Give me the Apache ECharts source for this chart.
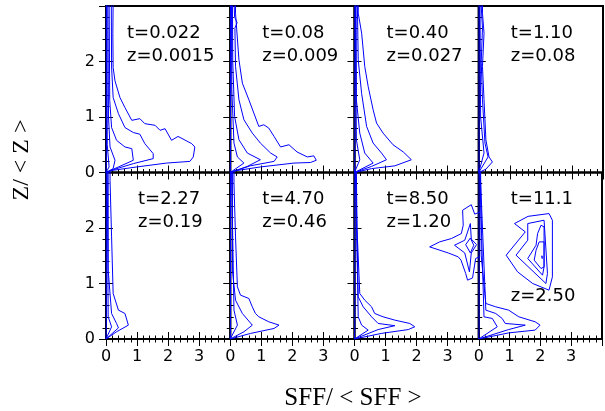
<!DOCTYPE html>
<html><head><meta charset="utf-8">
<script src="https://cdn.jsdelivr.net/npm/echarts@6/dist/echarts.min.js"></script>
<style>html,body{margin:0;padding:0;background:#fff}#c{width:605px;height:411px}</style>
</head><body><div id="c"></div>
<script>
const xTicks = ['0', '1', '2', '3'];
const yTicks = ['0', '1', '2'];
const tLabels = ['t=0.022', 't=0.08', 't=0.40', 't=1.10', 't=2.27', 't=4.70', 't=8.50', 't=11.1'];
const zLabels = ['z=0.0015', 'z=0.009', 'z=0.027', 'z=0.08', 'z=0.19', 'z=0.46', 'z=1.20', 'z=2.50'];
const xTitle = 'SFF/ < SFF >';
const yTitle = 'Z/ < Z >';

// contour polylines [SFF/<SFF>, Z/<Z>] per panel
const panel1 = [
  [[0.01,3.1],[0.01,0.2],[0,0]],
  [[0,0],[0.23,0.04],[0.99,0.10],[1.95,0.17],[2.70,0.20],[2.81,0.28],[2.86,0.46],[2.76,0.52],[2.32,0.65],[2.11,0.58],[1.90,0.79],[1.74,0.76],[1.58,0.85],[1.25,0.88],[1.09,0.97],[0.83,0.94],[0.61,1.17],[0.45,1.35],[0.29,1.65],[0.23,1.89],[0.22,2.5],[0.23,3.1]],
  [[0,0],[0.23,0.05],[0.88,0.16],[1.52,0.25],[1.52,0.34],[1.25,0.52],[1.09,0.69],[0.88,0.72],[0.61,0.81],[0.40,1.06],[0.23,1.35],[0.18,1.9],[0.17,3.1]],
  [[0,0],[0.40,0.10],[0.88,0.22],[0.83,0.43],[0.61,0.46],[0.34,0.58],[0.18,0.81],[0.12,1.3],[0.10,3.1]],
  [[0,0],[0.23,0.07],[0.29,0.22],[0.13,0.46],[0.08,1.0],[0.06,3.1]],
  [[0,0],[0.10,0.10],[0.04,0.5],[0.03,3.1]]
];
const panel2 = [
  [[0.01,3.1],[0.01,0.2],[0,0]],
  [[0,0],[0.15,0.03],[0.97,0.10],[2.05,0.17],[2.58,0.18],[2.77,0.22],[2.69,0.30],[2.48,0.28],[2.15,0.37],[1.89,0.50],[1.62,0.46],[1.41,0.65],[1.24,0.80],[1.08,0.86],[0.92,0.83],[0.76,1.07],[0.60,1.31],[0.39,1.61],[0.28,2.03],[0.17,2.87],[0.17,3.1]],
  [[0,0],[0.64,0.12],[1.41,0.20],[1.51,0.28],[1.30,0.35],[0.97,0.53],[0.71,0.71],[0.44,0.95],[0.28,1.31],[0.17,1.91],[0.15,2.6],[0.22,2.7],[0.14,2.8],[0.12,3.1]],
  [[0,0],[0.55,0.11],[0.97,0.23],[0.55,0.35],[0.28,0.59],[0.14,1.01],[0.08,2.0],[0.07,3.1]],
  [[0,0],[0.44,0.17],[0.23,0.28],[0.12,0.53],[0.05,1.5],[0.04,3.1]]
];
const panel3 = [
  [[0.01,3.1],[0.01,0.2],[0,0]],
  [[0,0],[0.55,0.07],[1.30,0.12],[1.83,0.23],[1.57,0.37],[1.24,0.50],[0.92,0.71],[0.71,0.89],[0.60,1.13],[0.44,1.55],[0.33,1.91],[0.23,2.51],[0.12,2.87],[0.12,3.1]],
  [[0,0],[0.55,0.11],[1.03,0.23],[0.87,0.35],[0.60,0.53],[0.39,0.83],[0.23,1.42],[0.12,2.03],[0.09,3.1]],
  [[0,0],[0.60,0.17],[0.33,0.35],[0.17,0.71],[0.06,1.31],[0.05,3.1]],
  [[0,0],[0.17,0.23],[0.06,0.59],[0.03,3.1]]
];
const panel4 = [
  [[0.01,3.1],[0.01,0.2],[0,0]],
  [[0,0],[0.23,0.06],[0.44,0.19],[0.33,0.28],[0.23,0.59],[0.17,1.31],[0.12,1.91],[0.17,2.51],[0.12,2.87],[0.12,3.1]],
  [[0,0],[0.30,0.28],[0.20,0.53],[0.12,1.31],[0.08,2.0],[0.12,2.6],[0.07,3.1]],
  [[0,0],[0.17,0.35],[0.06,1.0],[0.04,3.1]]
];
const panel5 = [
  [[0.01,3.1],[0.01,0.2],[0,0]],
  [[0,0],[0.34,0.13],[0.72,0.25],[0.61,0.46],[0.40,0.52],[0.23,0.82],[0.18,1.84],[0.13,2.86],[0.13,3.1]],
  [[0,0],[0.40,0.20],[0.34,0.28],[0.18,0.46],[0.07,1.24],[0.07,3.1]],
  [[0,0],[0.18,0.22],[0.07,0.40],[0.04,3.1]]
];
const panel6 = [
  [[0.01,3.1],[0.01,0.2],[0,0]],
  [[0,0],[0.65,0.10],[1.41,0.19],[1.57,0.25],[1.24,0.31],[0.92,0.40],[0.81,0.46],[0.71,0.58],[0.60,0.73],[0.33,0.79],[0.23,0.94],[0.17,1.84],[0.12,2.81],[0.12,3.1]],
  [[0,0],[0.44,0.13],[0.71,0.25],[0.39,0.46],[0.17,0.70],[0.07,1.24],[0.07,3.1]],
  [[0,0],[0.23,0.25],[0.12,0.52],[0.04,3.1]]
];
const panel7 = [
  [[0.01,3.1],[0.01,0.2],[0,0]],
  [[0,0],[0.86,0.10],[1.73,0.17],[1.94,0.22],[1.78,0.28],[1.30,0.34],[0.92,0.40],[0.65,0.46],[0.55,0.58],[0.33,0.70],[0.17,0.82],[0.08,2.0],[0.06,3.1]],
  [[0,0],[0.76,0.17],[1.30,0.24],[0.76,0.28],[0.55,0.40],[0.28,0.58],[0.12,0.76],[0.04,3.1]],
  [[0,0],[0.44,0.16],[0.23,0.25],[0.12,0.40],[0.03,3.1]],
  [[4.1,2.30],[3.87,2.25],[3.76,2.42],[3.48,2.32],[3.50,2.05],[3.44,1.90],[3.12,1.81],[2.74,1.75],[2.42,1.66],[2.48,1.63],[3.02,1.55],[3.34,1.48],[3.43,1.42],[3.58,1.18],[3.64,1.06],[3.80,1.10],[3.90,1.45],[4.1,1.50]],
  [[3.22,1.69],[3.55,1.78],[3.73,2.08],[3.76,1.80],[3.93,1.70],[3.76,1.55],[3.70,1.21],[3.55,1.55],[3.22,1.69]],
  [[3.58,1.70],[3.73,1.82],[3.84,1.69],[3.73,1.55],[3.58,1.70]]
];
const panel8 = [
  [[0.01,3.1],[0.01,0.2],[0,0]],
  [[0,0],[0.97,0.11],[1.83,0.16],[1.99,0.25],[1.83,0.31],[1.30,0.40],[0.97,0.52],[0.55,0.58],[0.23,0.64],[0.08,1.5],[0.06,3.1]],
  [[0,0],[0.97,0.17],[1.51,0.25],[0.86,0.28],[0.76,0.37],[0.55,0.46],[0.23,0.52],[0.04,3.1]],
  [[0,0],[0.60,0.22],[0.44,0.37],[0.17,0.40],[0.03,3.1]],
  [[1.16,2.08],[1.60,2.21],[2.28,2.26],[2.39,2.14],[2.39,1.12],[2.28,0.88],[1.75,1.00],[1.26,1.21],[0.89,1.51],[1.51,1.93],[1.16,2.08]],
  [[1.59,2.08],[2.12,2.14],[2.23,1.18],[2.18,1.00],[1.21,1.51],[1.59,1.78],[1.59,2.08]],
  [[1.91,1.90],[2.02,2.05],[2.12,2.02],[2.12,1.30],[2.07,1.15],[1.59,1.45],[1.86,1.69],[1.91,1.90]],
  [[1.96,1.75],[2.12,1.75],[2.12,1.30],[2.02,1.27],[1.80,1.42],[1.86,1.60],[1.96,1.75]],
  [[2.05,1.50],[2.09,1.47],[2.06,1.45],[2.05,1.50]]
];
const panels = [panel1, panel2, panel3, panel4, panel5, panel6, panel7, panel8];

const chart = echarts.init(document.getElementById('c'), null, {renderer: 'canvas'});
const L = 106, T = 6, W = 124.25, H = 166.5;
const grids = [], xAxes = [], yAxes = [], series = [], graphics = [];
const tickFont = {color: '#000', fontSize: 16, fontFamily: 'DejaVu Sans'};
const textOffsets = [21, 32, 32, 32, 32, 32, 32, 32];
panels.forEach((p, i) => {
  const col = i % 4, row = Math.floor(i / 4);
  grids.push({left: L + col * W, top: T + row * H, width: W, height: H, show: true, borderColor: '#000', borderWidth: 2, backgroundColor: 'transparent'});
  const tick = {show: true, inside: true, length: 7, lineStyle: {color: '#000', width: 1}};
  const minor = {show: true, splitNumber: 5, length: 3.5, lineStyle: {color: '#000', width: 1}};
  ['bottom', 'top'].forEach(pos => {
    xAxes.push({gridIndex: i, type: 'value', min: 0, max: 4, interval: 1, position: pos,
      axisLine: {show: false}, axisTick: tick, minorTick: minor, splitLine: {show: false}, minorSplitLine: {show: false},
      axisLabel: Object.assign({show: pos === 'bottom' && row === 1, margin: 10, formatter: v => (v < 4 ? xTicks[v] : '')}, tickFont)});
  });
  ['left', 'right'].forEach(pos => {
    yAxes.push({gridIndex: i, type: 'value', min: 0, max: 3, interval: 1, position: pos,
      axisLine: {show: false}, axisTick: tick, minorTick: minor, splitLine: {show: false}, minorSplitLine: {show: false},
      axisLabel: Object.assign({show: pos === 'left' && col === 0, margin: 11, formatter: v => (v < 3 ? yTicks[v] : '')}, tickFont)});
  });
  p.forEach(c => {
    series.push({type: 'line', xAxisIndex: i * 2, yAxisIndex: i * 2, data: c, showSymbol: false, symbol: 'none',
      clip: true, silent: true, animation: false, lineStyle: {color: '#0000ff', width: 1}});
  });
  const tx = L + col * W + textOffsets[i];
  const ty = T + row * H;
  graphics.push({type: 'text', left: tx, top: ty + 18, style: {text: tLabels[i], fill: '#000', font: '18px "DejaVu Sans"'}});
  const zy = i === 7 ? 287 : ty + 41;
  graphics.push({type: 'text', left: tx, top: zy, style: {text: zLabels[i], fill: '#000', font: '18px "DejaVu Sans"'}});
});
graphics.push({type: 'text', x: 22, y: 160, rotation: Math.PI / 2, style: {text: yTitle, fill: '#000', font: '24px "Liberation Serif"', align: 'center', verticalAlign: 'middle'}});
graphics.push({type: 'text', x: 353, y: 398, style: {text: xTitle, fill: '#000', font: '25px "Liberation Serif"', align: 'center', verticalAlign: 'middle'}});

chart.setOption({
  animation: false,
  backgroundColor: '#fff',
  grid: grids, xAxis: xAxes, yAxis: yAxes, series: series, graphic: graphics
});
</script>
</body></html>
